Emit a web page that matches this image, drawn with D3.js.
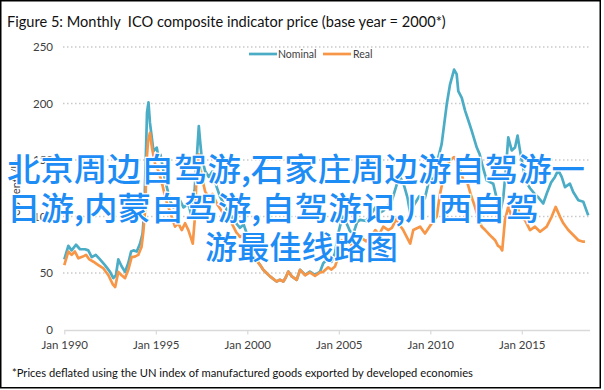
<!DOCTYPE html>
<html><head><meta charset="utf-8">
<script src="https://cdn.jsdelivr.net/npm/d3@7"></script>
<style>html,body{margin:0;padding:0;background:#fff;}svg{display:block;}</style>
</head><body>
<script>
const titleText = "Figure 5: Monthly  ICO composite indicator price (base year = 2000*)";
const footText = "*Prices deflated using the UN index of manufactured goods exported by developed economies";
const yLabelText = "US cents/lb";
const seriesNames = ["Nominal", "Real"];
const yTicks = [0, 50, 100, 150, 200, 250];
const xTickYears = [1990, 1995, 2000, 2005, 2010, 2015];
const overlayLines = ["北京周边自驾游,石家庄周边游自驾游一", "日游,内蒙自驾游,自驾游记,川西自驾", "游最佳线路图"];

const nominalYears = [1990.00,1990.22,1990.40,1990.64,1990.86,1991.13,1991.31,1991.50,1991.72,1991.95,1992.22,1992.50,1992.68,1992.82,1992.95,1993.13,1993.32,1993.50,1993.65,1993.78,1993.96,1994.14,1994.28,1994.37,1994.45,1994.52,1994.60,1994.68,1994.78,1994.87,1995.05,1995.13,1995.25,1995.50,1995.78,1995.96,1996.15,1996.33,1996.51,1996.78,1996.96,1997.12,1997.24,1997.35,1997.42,1997.51,1997.70,1997.90,1998.10,1998.33,1998.50,1998.69,1998.90,1999.15,1999.35,1999.60,1999.80,1999.97,2000.15,2000.33,2000.51,2000.70,2000.87,2001.05,2001.24,2001.40,2001.60,2001.78,2001.97,2002.10,2002.24,2002.43,2002.70,2002.88,2003.16,2003.42,2003.70,2003.98,2004.15,2004.42,2004.60,2004.79,2004.97,2005.20,2005.40,2005.61,2005.80,2006.00,2006.16,2006.50,2006.80,2007.00,2007.20,2007.43,2007.70,2007.90,2008.16,2008.34,2008.52,2008.75,2008.90,2009.10,2009.40,2009.70,2009.98,2010.20,2010.35,2010.62,2010.90,2011.08,2011.30,2011.44,2011.53,2011.72,2011.90,2012.08,2012.26,2012.54,2012.70,2012.85,2013.08,2013.44,2013.60,2013.81,2013.99,2014.12,2014.26,2014.45,2014.63,2014.77,2014.90,2015.05,2015.25,2015.45,2015.70,2015.90,2016.17,2016.40,2016.60,2016.81,2016.99,2017.18,2017.36,2017.63,2017.81,2018.09,2018.36,2018.63];
const nominal = [62,74,70,75,71,71,70,64,66,62,57,51,45.5,48,62,56,51,59,69,70,69,76,85,106,150,192,201,183,170,158,161,154,155,133,114,108,110,114,108,111,100,123,152,180,167,152,140,135,140,126,118,112,105,100,95,90,93,85,70,65,61.6,57,52.8,50,47,45,42.5,44,42.5,46,51.3,47,44,52.8,48.4,51.3,48.4,51.3,58.7,63,60,67.5,85,100,95,87,85,95,97,96,103,108,103,105,110,114,128,135,130,117,103,110,118,116,135,132,146.7,164,199.5,217,230,226,211,205,193.7,185,176,161,155,145,132,129,118,102.7,117,140,170,158.5,161,171.6,158.5,145,130,125,120,117,111.5,122,130,135,141,135,126,129,121.7,114.4,113,101];

const realYears = [1990.00,1990.22,1990.40,1990.58,1990.77,1991.01,1991.19,1991.37,1991.59,1991.86,1992.14,1992.41,1992.65,1992.78,1992.95,1993.13,1993.32,1993.50,1993.68,1993.86,1994.04,1994.22,1994.31,1994.42,1994.50,1994.58,1994.68,1994.80,1994.96,1995.15,1995.30,1995.55,1995.87,1996.05,1996.23,1996.42,1996.60,1996.78,1997.02,1997.14,1997.23,1997.34,1997.51,1997.70,1997.90,1998.10,1998.33,1998.69,1999.15,1999.40,1999.60,1999.80,1999.97,2000.15,2000.33,2000.51,2000.70,2000.87,2001.05,2001.24,2001.40,2001.60,2001.78,2001.97,2002.10,2002.24,2002.43,2002.70,2002.88,2003.16,2003.42,2003.70,2003.98,2004.15,2004.42,2004.60,2004.79,2004.97,2005.15,2005.40,2005.61,2005.79,2005.98,2006.16,2006.50,2006.80,2007.00,2007.20,2007.43,2007.70,2007.90,2008.16,2008.34,2008.52,2008.71,2008.90,2009.07,2009.44,2009.71,2010.08,2010.35,2010.53,2010.81,2011.09,2011.30,2011.50,2011.63,2011.85,2011.99,2012.20,2012.44,2012.60,2012.81,2013.00,2013.17,2013.35,2013.54,2013.70,2013.81,2013.93,2014.08,2014.26,2014.45,2014.63,2014.78,2014.90,2015.17,2015.45,2015.72,2016.00,2016.36,2016.63,2016.85,2017.09,2017.27,2017.54,2017.81,2018.09,2018.36,2018.45];
const real = [57,69,66,69,63,64.5,66,62,60,57,54,48,40,37.6,51,48,45.5,53,64,64.5,66,73,85,106,150,167,174,160,146.7,140,132,115,99.7,91,94,88,94,88,76,99.7,138,155,135,122,117,120,111.5,102.7,94,86,82,84,76,70,64.5,61,57,52.8,50,47,45,42.5,44,42.5,46,51.3,47,44,52.8,48,50.5,47.5,50.5,51,55,53,55.7,64.5,79,76,76,73,73,82,78,83,88,84,91,88,90,98,92,88,82,76,88,91,85,94,100,120,141,150,152.5,147,141,130,132,120,108.5,100,91,88,85,82,79,74,73,70,97,108.5,99.7,102.7,108.5,99.7,97,88,91,86.5,91,99.7,108.5,99.7,94,88,83.6,79,77.7,77.7];

const W = 604, H = 390;
const colors = {Nominal: "#4BACC6", Real: "#F79646"};
const svg = d3.select("body").append("svg").attr("width", W).attr("height", H);
const FONT = "Lato, 'Open Sans', sans-serif";

svg.append("rect").attr("x", 0.75).attr("y", 0.75).attr("width", 599.5).attr("height", 387).attr("fill", "#fff").attr("stroke", "#000").attr("stroke-width", 1.5);

function fit(sel, target) {
  const fs = parseFloat(sel.attr("font-size"));
  const w = sel.node().getComputedTextLength();
  sel.attr("font-size", (fs * target / w).toFixed(2));
}

const title = svg.append("text").attr("x", 7).attr("y", 27).attr("font-family", FONT).attr("font-size", 16)
  .attr("fill", "#111").style("white-space", "pre").text(titleText);
fit(title, 439);

const x = d3.scaleLinear().domain([1990, 2015]).range([64.3, 521.8]);
const y = d3.scaleLinear().domain([0, 250]).range([329.5, 47]);

// grid
svg.append("g").selectAll("line").data(yTicks.filter(d => d > 0)).join("line")
  .attr("x1", 63).attr("x2", 589).attr("y1", d => y(d)).attr("y2", d => y(d))
  .attr("stroke", "#c9c9c9").attr("stroke-width", 1.5).attr("stroke-dasharray", "1.5,2.5");

// y axis labels
const yAxis = d3.axisLeft(y).tickValues(yTicks).tickSize(0).tickPadding(0);
const gy = svg.append("g").attr("transform", "translate(53,0)").call(yAxis);
gy.select(".domain").remove();
gy.selectAll("text").attr("font-family", FONT).attr("font-size", 11.5).attr("fill", "#404040");

// x axis
const xAxis = d3.axisBottom(x).tickValues(xTickYears).tickSize(4).tickPadding(6).tickFormat(d => "Jan " + d);
const gx = svg.append("g").attr("transform", `translate(0,${y(0)+1})`).call(xAxis);
gx.select(".domain").attr("d", `M${x(1990)},0H590`).attr("stroke", "#d9d9d9").attr("stroke-width", 1.5);
gx.selectAll(".tick line").attr("stroke", "#d9d9d9").attr("stroke-width", 1.2);
gx.selectAll("text").attr("font-family", FONT).attr("font-size", 11.5).attr("fill", "#404040");

// y label
svg.append("text").attr("transform", "translate(20,188) rotate(-90)").attr("text-anchor", "middle")
  .attr("font-family", FONT).attr("font-size", 11).attr("fill", "#404040").text(yLabelText);

// lines
const line = d3.line().x(d => x(d[0])).y(d => y(d[1]));
const nomData = nominalYears.map((t, i) => [t, nominal[i]]);
const realData = realYears.map((t, i) => [t, real[i]]);
svg.append("path").datum(nomData).attr("d", line).attr("fill", "none").attr("stroke", colors.Nominal).attr("stroke-width", 2.7).attr("stroke-linejoin", "round");
svg.append("path").datum(realData).attr("d", line).attr("fill", "none").attr("stroke", colors.Real).attr("stroke-width", 2.7).attr("stroke-linejoin", "round");

// legend
const legendPos = [{x: 249, tx: 278}, {x: 323, tx: 353}];
seriesNames.forEach((name, i) => {
  const p = legendPos[i];
  svg.append("line").attr("x1", p.x).attr("x2", p.x + 28).attr("y1", 54).attr("y2", 54)
    .attr("stroke", colors[name]).attr("stroke-width", 2.7);
  svg.append("text").attr("x", p.tx).attr("y", 58).attr("font-family", FONT).attr("font-size", 10.5)
    .attr("fill", "#404040").text(name);
});

// footnote
const foot = svg.append("text").attr("x", 12).attr("y", 377).attr("font-family", FONT).attr("font-size", 11.5)
  .attr("fill", "#111").text(footText);
fit(foot, 461);

// overlay text
const ov = [{x: 7, y: 181, w: 578}, {x: 7, y: 220, w: 532}, {x: 205, y: 259, w: 193}];
overlayLines.forEach((s, i) => {
  svg.append("text").attr("x", ov[i].x).attr("y", ov[i].y)
    .attr("font-family", "'Noto Sans CJK SC', sans-serif").attr("font-size", 32).attr("font-weight", 500)
    .attr("fill", "#1e8cf5").attr("stroke", "#fff").attr("stroke-width", 2.5).attr("paint-order", "stroke")
    .attr("textLength", ov[i].w).attr("lengthAdjust", "spacingAndGlyphs").text(s);
});
</script>
</body></html>
